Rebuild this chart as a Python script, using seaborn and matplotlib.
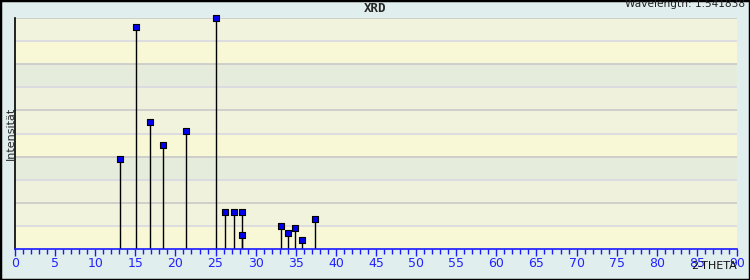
import matplotlib
matplotlib.use("Agg")
import matplotlib.pyplot as plt
import seaborn as sns
import pandas as pd
import numpy as np

# Data
two_theta = [13.13, 15.12, 16.87, 18.49, 21.36, 25.10, 26.20, 27.34, 28.34, 28.34,
             33.20, 34.07, 34.94, 35.82, 37.44]
intensity = [38.8, 96.0, 54.8, 44.9, 51.0, 100.0, 15.9, 15.9, 15.9, 5.9,
             9.8, 6.8, 9.0, 3.8, 12.9]
x_ticks = list(range(0, 95, 5))

df = pd.DataFrame({"2-THETA": two_theta, "Intensität": intensity})

sns.set_theme(style="white")
plt.rcParams['font.family'] = ['DejaVu Sans']

fig = plt.figure(figsize=(7.5, 2.8), dpi=100, facecolor="#e1eeee")
ax = fig.add_axes([15/750, 1-249/280, 722/750, 231/280])
ax.set_xlim(0, 90)
ax.set_ylim(0, 100)

band_colors = ["#f8f8d6", "#f1f3dd", "#eff1dc", "#e6ecdc"]
for i in range(10):
    ax.axhspan(i*10, (i+1)*10, color=band_colors[i % 4], zorder=0, lw=0)
grid_colors = ["#c9c9c9", "#d8d8e2"]
for i in range(1, 11):
    ax.axhline(i*10, color=grid_colors[i % 2], lw=1.2, zorder=1)

# stems
ax.vlines(df["2-THETA"], 0, df["Intensität"], color="black", lw=1, zorder=2)
sns.scatterplot(data=df, x="2-THETA", y="Intensität", marker="s", s=22,
                color="#0000ee", edgecolor="black", linewidth=0.8, zorder=3, ax=ax,
                clip_on=False)

for s in ["top", "right"]:
    ax.spines[s].set_visible(False)
ax.spines["left"].set_color("black")
ax.spines["left"].set_linewidth(1.2)
ax.spines["bottom"].set_color("#1a1aff")
ax.spines["bottom"].set_linewidth(1.2)

ax.set_xticks(x_ticks)
ax.set_xticks(np.arange(0, 91, 1), minor=True)
ax.set_xticklabels([str(t) for t in x_ticks])
ax.tick_params(axis="x", which="major", direction="out", length=5, width=1,
               color="#1a1aff", labelcolor="#2222ff", labelsize=9, pad=1, bottom=True)
ax.tick_params(axis="x", which="minor", direction="out", length=3.5, width=1,
               color="#1a1aff", bottom=True)
ax.set_yticks([])
ax.set_xlabel("")
ax.set_ylabel("")

fig.text(10.5/750, 1-133/280, "Intensität", ha="center", va="center", rotation=90,
         fontsize=8)
fig.text(375/750, 1-8/280, "XRD", ha="center", va="center", fontsize=9,
         fontweight="bold", family="DejaVu Sans Mono")
fig.text(745/750, 1-4/280, "Wavelength: 1.541838", ha="right", va="center",
         fontsize=7.6, color="#222222")
fig.text(737/750, 1-266/280, "2-THETA", ha="right", va="center", fontsize=8,
         color="#111111")

border = plt.Rectangle((0, 0), 1, 1, transform=fig.transFigure, fill=False,
                       edgecolor="black", lw=2.5)
fig.patches.append(border)

fig.savefig("out.png", dpi=100, facecolor=fig.get_facecolor())
